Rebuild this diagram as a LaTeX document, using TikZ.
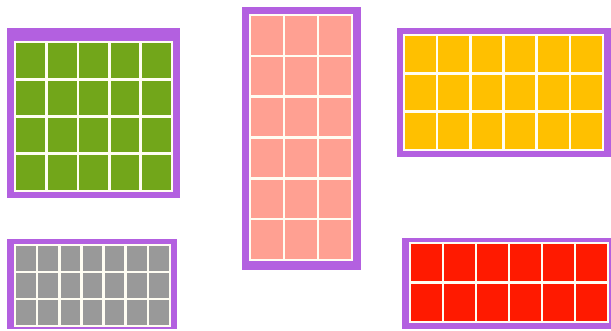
\documentclass[tikz,border=0pt]{standalone}
\usepackage{tikz}
\definecolor{purp}{HTML}{B360E0}
\definecolor{cgreen}{HTML}{72A61A}
\definecolor{cpink}{HTML}{FFA092}
\definecolor{cyellow}{HTML}{FFC000}
\definecolor{cgray}{HTML}{999999}
\definecolor{cred}{HTML}{FF1A00}
\definecolor{gline}{HTML}{FFFDF2}
\tikzset{
  frame/.style={fill=purp, draw=none},
  gridline/.style={draw=gline, line width=2.6pt},
}
% #1 x0, #2 y0, #3 x1, #4 y1, #5 cols, #6 rows
\newcommand\cellgrid[6]{%
  \pgfmathtruncatemacro\ncm{#5-1}%
  \pgfmathtruncatemacro\nrm{#6-1}%
  \foreach \i in {1,...,\ncm}{\draw[gridline] ({#1+\i*(#3-#1)/#5},#2) -- ({#1+\i*(#3-#1)/#5},#4);}%
  \foreach \j in {1,...,\nrm}{\draw[gridline] (#1,{#2+\j*(#4-#2)/#6}) -- (#3,{#2+\j*(#4-#2)/#6});}%
  \draw[gridline] (#1,#2) rectangle (#3,#4);%
}
\begin{document}
\begin{tikzpicture}[x=1pt,y=-1pt]
\useasboundingbox (0,0) rectangle (611,330);
% green panel
\fill[frame] (7,28) rectangle (180,198);
\fill[cgreen] (15,42) rectangle (172,191);
\cellgrid{15}{42}{172}{191}{5}{4}
% pink panel
\fill[frame] (242,7) rectangle (361,270);
\fill[cpink] (250,15) rectangle (352,260);
\cellgrid{250}{15}{352}{260}{3}{6}
% yellow panel
\fill[frame] (397,28) rectangle (611,157);
\fill[cyellow] (404,35) rectangle (603,150);
\cellgrid{404}{35}{603}{150}{6}{3}
% gray panel
\fill[frame] (7,239) rectangle (177,329);
\fill[cgray] (15,245) rectangle (170,326);
\cellgrid{15}{245}{170}{326}{7}{3}
% red panel
\fill[frame] (402,238) rectangle (611,329);
\fill[cred] (410,243) rectangle (608,322);
\cellgrid{410}{243}{608}{322}{6}{2}
\end{tikzpicture}
\end{document}
